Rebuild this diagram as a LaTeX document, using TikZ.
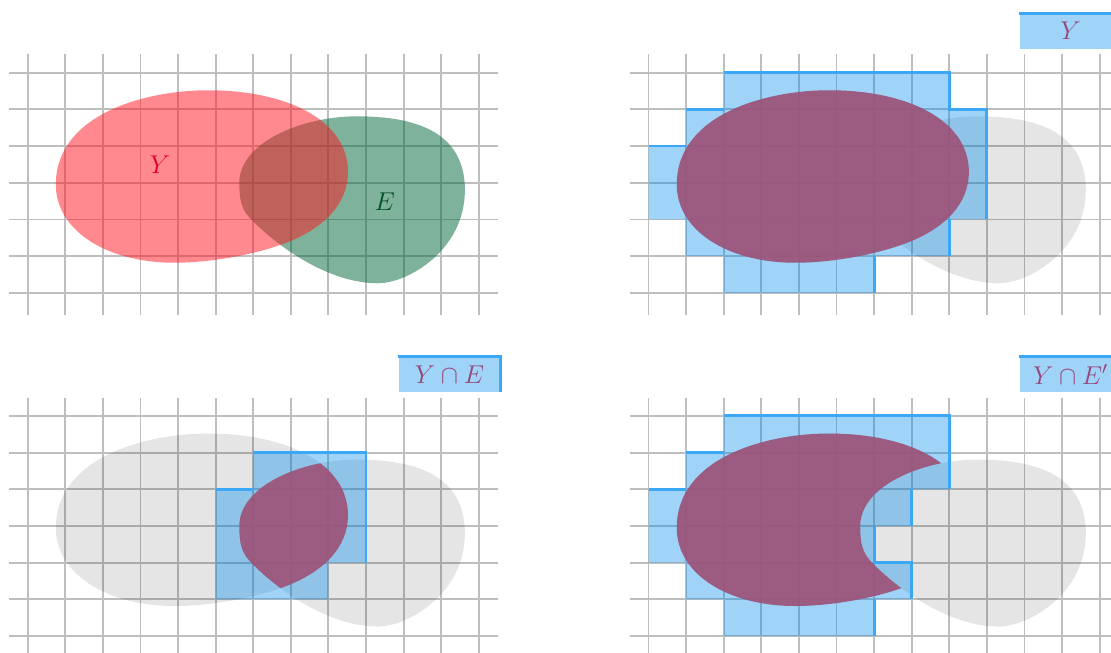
\documentclass[tikz,border=0pt]{standalone}
\usepackage{fix-cm}
\usetikzlibrary{calc}
\definecolor{gridgray}{RGB}{190,190,190}
\definecolor{setred}{RGB}{255,20,30}
\definecolor{setgreen}{RGB}{0,101,53}
\definecolor{cellblue}{RGB}{5,140,234}
\definecolor{rimblue}{RGB}{60,168,245}
\definecolor{meetpurple}{RGB}{158,83,121}
\definecolor{tagpurple}{RGB}{150,70,122}
\tikzset{gridline/.style={gridgray,line width=1.4pt},cellcover/.style={fill=cellblue,fill opacity=.385},
rimline/.style={rimblue,line width=2.2pt},greyblob/.style={fill=black,fill opacity=.1},meetfill/.style={fill=meetpurple,fill opacity=.92},
tagbox/.style={fill=cellblue,fill opacity=.385,text opacity=1,text=tagpurple,minimum width=2.7cm,minimum height=.93cm,inner sep=0pt,font=\fontsize{19.5}{22}\selectfont}}
\def\blobY{(0.75,2.95) .. controls (0.75,1.7) and (2.1,0.82) .. (3.9,0.82) .. controls (5.0,0.82) and (6.3,1.1) .. (7.06,1.44) .. controls (7.86,1.8) and (8.52,2.4) .. (8.52,3.3) .. controls (8.52,4.7) and (6.9,5.52) .. (4.8,5.52) .. controls (3.1,5.52) and (0.75,4.85) .. (0.75,2.95) -- cycle}
\def\blobE{(5.63,3.0) .. controls (5.63,2.55) and (5.68,2.3) .. (5.9,2.05) .. controls (6.5,1.4) and (7.9,0.26) .. (9.32,0.26) .. controls (10.1,0.26) and (11.63,1.15) .. (11.63,2.8) .. controls (11.63,4.4) and (10.3,4.81) .. (8.75,4.81) .. controls (7.3,4.81) and (5.63,4.1) .. (5.63,3.0) -- cycle}
\newcommand{\panelgrid}{\foreach \y in {0,...,6}{\draw[gridline] (-.5,\y)--(12.5,\y);}
\foreach \x in {0,...,12}{\draw[gridline] (\x,-.6)--(\x,6.5);}}

\begin{document}
\begin{tikzpicture}[x=1cm,y=.976cm]
\useasboundingbox (0,0) rectangle (29.55,17.79);
\clip (0,0) rectangle (29.55,17.79);
% Y and E
\begin{scope}[shift={(.735,9.81)}]
\panelgrid
\fill[setgreen,fill opacity=.5] \blobE;
\fill[setred,fill opacity=.5] \blobY;
\node[text={rgb,255:red,230;green,0;blue,40},font=\fontsize{19.5}{22}\selectfont] (labY) at (3.52,3.5){$Y$};
\node[text={rgb,255:red,0;green,80;blue,40},font=\fontsize{19.5}{22}\selectfont] (labE) at (9.5,2.48){$E$};
\end{scope}
% cover of Y
\begin{scope}[shift={(17.25,9.81)}]
\panelgrid
\fill[greyblob] \blobY \blobE;
\fill[cellcover] (2,0)--(2,1)--(1,1)--(1,2)--(0,2)--(0,4)--(1,4)--(1,5)--(2,5)--(2,6)--(8,6)--(8,5)--(9,5)--(9,2)--(8,2)--(8,1)--(6,1)--(6,0)--cycle;
\fill[meetfill] \blobY;
\draw[rimline] (0,4)--(1,4) (1,5)--(2,5) (2,6)--(8,6)--(8,5)--(9,5)--(9,2) (8,2)--(8,1) (6,1)--(6,0);
\node[tagbox] (tagY) at (11.22,7.13){$Y$};
\draw[rimline] (tagY.north west)--(tagY.north east)--(tagY.south east);
\end{scope}
% cover of Y cap E
\begin{scope}[shift={(.735,.455)}]
\panelgrid
\fill[greyblob] \blobY \blobE;
\fill[cellcover] (5,1)--(5,4)--(6,4)--(6,5)--(9,5)--(9,2)--(8,2)--(8,1)--cycle;
\begin{scope}\clip \blobE;\fill[meetfill] \blobY;\end{scope}
\draw[rimline] (5,4)--(6,4) (6,5)--(9,5)--(9,2);
\node[tagbox] (tagYE) at (11.22,7.13){$Y\cap E$};
\draw[rimline] (tagYE.north west)--(tagYE.north east)--(tagYE.south east);
\end{scope}
% cover of Y cap E'
\begin{scope}[shift={(17.25,.455)}]
\panelgrid
\fill[greyblob] \blobY \blobE;
\fill[cellcover] (2,0)--(2,1)--(1,1)--(1,2)--(0,2)--(0,4)--(1,4)--(1,5)--(2,5)--(2,6)--(8,6)--(8,4)--(7,4)--(7,3)--(6,3)--(6,2)--(7,2)--(7,1)--(6,1)--(6,0)--cycle;
\begin{scope}[even odd rule]\clip (-1,-1) rectangle (13,8) \blobE;\fill[meetfill] \blobY;\end{scope}
\draw[rimline] (0,4)--(1,4) (1,5)--(2,5) (2,6)--(8,6)--(8,4) (7,4)--(7,3) (6,3)--(6,2)--(7,2)--(7,1) (6,1)--(6,0);
\node[tagbox] (tagYEc) at (11.22,7.13){$Y\cap E'$};
\draw[rimline] (tagYEc.north west)--(tagYEc.north east)--(tagYEc.south east);
\end{scope}
\end{tikzpicture}
\end{document}
